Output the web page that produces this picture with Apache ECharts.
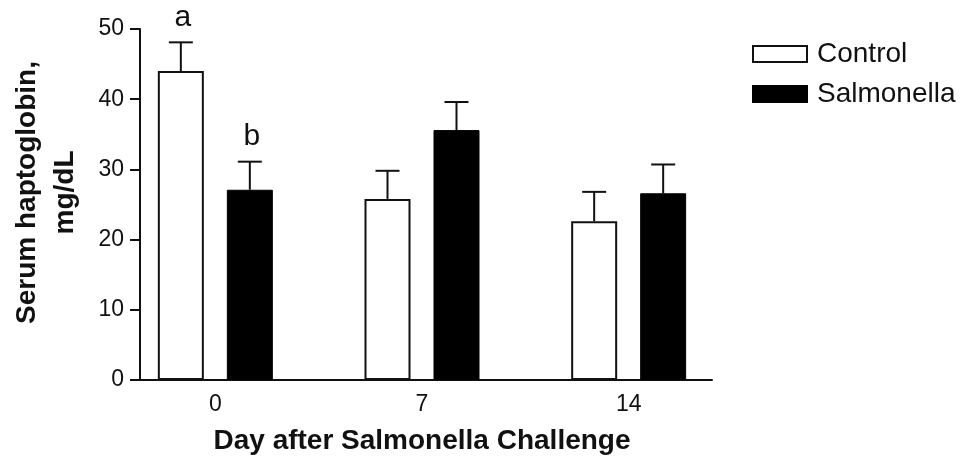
<!DOCTYPE html>
<html>
<head>
<meta charset="utf-8">
<script src="https://cdn.jsdelivr.net/npm/echarts@6/dist/echarts.min.js"></script>
<style>
html,body{margin:0;padding:0;background:#fff;}
#chart{width:969px;height:464px;}
</style>
</head>
<body>
<div id="chart"></div>
<script>
// ---- data ----
const categories = ['0', '7', '14'];
const controlValues = [44.0, 25.8, 22.6];
const controlErrors = [4.1, 4.0, 4.2];
const salmonellaValues = [27.1, 35.6, 26.6];
const salmonellaErrors = [4.0, 4.0, 4.1];
const controlLetters = ['a', '', ''];
const salmonellaLetters = ['b', '', ''];
const yTicks = { min: 0, max: 50, interval: 10 };

// ---- style ----
const FONT = '"Liberation Sans", Arial, Helvetica, sans-serif';
const INK = '#111';
const BAR_W = 46;
const BAR_GAP = 23;
const OFFSET = (BAR_W + BAR_GAP) / 2;

const chart = echarts.init(document.getElementById('chart'), null, { renderer: 'canvas' });

function errorSeries(name, values, errors, letters, sign) {
  return {
    type: 'custom',
    name: name + ' err',
    xAxisIndex: 0,
    yAxisIndex: 0,
    z: 5,
    silent: true,
    data: values.map((v, i) => [i, v, errors[i]]),
    renderItem: function (params, api) {
      const i = api.value(0), v = api.value(1), e = api.value(2);
      const base = api.coord([i, v]);
      const top = api.coord([i, v + e]);
      const x = base[0] + sign * OFFSET;
      const children = [
        { type: 'line', shape: { x1: x, y1: base[1], x2: x, y2: top[1] }, style: { stroke: INK, lineWidth: 2 } },
        { type: 'line', shape: { x1: x - 12, y1: top[1], x2: x + 12, y2: top[1] }, style: { stroke: INK, lineWidth: 2 } }
      ];
      const t = letters[params.dataIndex];
      if (t) {
        children.push({
          type: 'text',
          style: { text: t, x: x + 2, y: top[1] - 10, align: 'center', verticalAlign: 'bottom', font: '30px ' + FONT, fill: INK }
        });
      }
      return { type: 'group', children: children };
    }
  };
}

const option = {
  backgroundColor: '#fff',
  animation: false,
  textStyle: { fontFamily: FONT, color: INK },
  legend: {
    orient: 'vertical',
    left: 752,
    top: 40,
    padding: 0,
    itemWidth: 54,
    itemHeight: 16,
    itemGap: 12,
    icon: 'rect',
    textStyle: { fontSize: 28, color: INK, fontFamily: FONT, padding: [0, 0, 0, 5] },
    data: ['Control', 'Salmonella']
  },
  grid: [
    { left: 112, top: 29, width: 620, height: 351, containLabel: false },
    { left: 135, top: 29, width: 577, height: 351, containLabel: false }
  ],
  xAxis: [
    {
      type: 'category', gridIndex: 0, data: categories,
      axisLine: { show: false }, axisTick: { show: false },
      axisLabel: { fontSize: 23, color: INK, margin: 13, fontFamily: FONT },
      name: 'Day after Salmonella Challenge', nameLocation: 'middle', nameGap: 47,
      nameTextStyle: { fontSize: 28, fontWeight: 'bold', color: INK, fontFamily: FONT }
    },
    {
      type: 'value', gridIndex: 1, min: 0, max: 1,
      axisLine: { show: true, lineStyle: { color: INK, width: 2 } },
      axisTick: { show: false }, axisLabel: { show: false }, splitLine: { show: false }
    }
  ],
  yAxis: [
    {
      type: 'value', gridIndex: 0, min: yTicks.min, max: yTicks.max, interval: yTicks.interval,
      show: false, splitLine: { show: false }
    },
    {
      type: 'value', gridIndex: 1, min: yTicks.min, max: yTicks.max, interval: yTicks.interval,
      axisLine: { show: true, lineStyle: { color: INK, width: 2 } },
      axisTick: { show: true, length: 10, lineStyle: { color: INK, width: 2 } },
      axisLabel: { fontSize: 23, color: INK, margin: 16, fontFamily: FONT },
      splitLine: { show: false },
      name: 'Serum haptoglobin,\nmg/dL', nameLocation: 'middle', nameGap: 56,
      nameTextStyle: { fontSize: 28, fontWeight: 'bold', color: INK, fontFamily: FONT, lineHeight: 38, align: 'center', padding: [0, 0, 0, 24] }
    }
  ],
  series: [
    {
      name: 'Control', type: 'bar', xAxisIndex: 0, yAxisIndex: 0,
      data: controlValues, barWidth: BAR_W, barGap: '50%',
      itemStyle: { color: '#fff', borderColor: INK, borderWidth: 2 }
    },
    {
      name: 'Salmonella', type: 'bar', xAxisIndex: 0, yAxisIndex: 0,
      data: salmonellaValues, barWidth: BAR_W, barGap: '50%',
      itemStyle: { color: '#000', borderColor: '#000', borderWidth: 1 }
    },
    errorSeries('Control', controlValues, controlErrors, controlLetters, -1),
    errorSeries('Salmonella', salmonellaValues, salmonellaErrors, salmonellaLetters, 1)
  ]
};
chart.setOption(option);
</script>
</body>
</html>
